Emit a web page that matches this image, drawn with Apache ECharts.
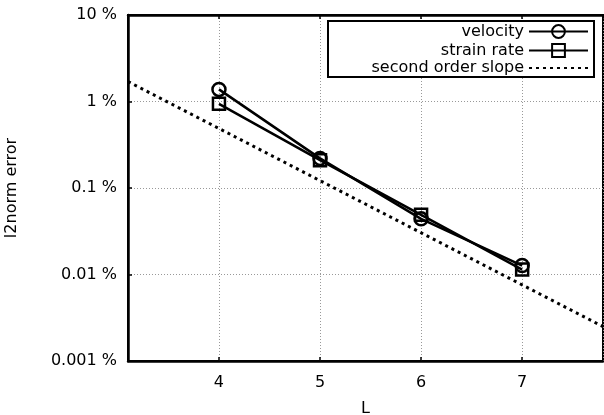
<!DOCTYPE html>
<html><head><meta charset="utf-8">
<script src="https://cdn.jsdelivr.net/npm/echarts@6/dist/echarts.min.js"></script>
<style>html,body{margin:0;padding:0;background:#fff}#c{width:604px;height:415px}</style>
</head><body><div id="c"></div>
<script>
var levels = [4, 5, 6, 7];
var velocity = [1.38, 0.22, 0.044, 0.0127];
var strainRate = [0.94, 0.21, 0.049, 0.0114];
var slopeX = [3.1, 7.8];
var slopeY = [1.7, 0.0025];
var yTicks = [0.001, 0.01, 0.1, 1, 10];
var names = ['velocity', 'strain rate', 'second order slope'];

var F = 'DejaVu Sans';
var chart = echarts.init(document.getElementById('c'), null, {renderer: 'canvas'});
function pairs(xs, ys) { return xs.map(function (x, i) { return [x, ys[i]]; }); }
function legendAt(name, top) {
  return {data: [name], orient: 'vertical', right: 15, top: top, align: 'right', padding: 0,
    itemWidth: 59, itemHeight: 16, itemGap: 0, selectedMode: false, z: 6,
    textStyle: {fontFamily: F, fontSize: 16, color: '#000'}};
}
var fmtY = function (v) {
  var s = v < 1 ? String(+v.toPrecision(3)) : String(Math.round(v));
  return s + ' %';
};
chart.setOption({
  animation: false,
  backgroundColor: '#fff',
  textStyle: {fontFamily: F},
  grid: {left: 128, right: 1, top: 15, bottom: 54, outerBoundsMode: 'none', containLabel: false,
    show: true, borderColor: '#000', borderWidth: 2, backgroundColor: 'transparent'},
  graphic: [{type: 'rect', shape: {x: 328, y: 21, width: 266, height: 56}, z: 5,
    style: {fill: '#fff', stroke: '#000', lineWidth: 2}}],
  legend: [legendAt(names[0], 23.5), legendAt(names[1], 42.5), legendAt(names[2], 60)],
  xAxis: [{
    type: 'value', min: slopeX[0], max: slopeX[1], name: 'L', nameLocation: 'middle', nameGap: 40,
    nameTextStyle: {fontFamily: F, fontSize: 16, color: '#000'},
    axisLine: {lineStyle: {color: '#000', width: 2.5}},
    axisTick: {inside: true, length: 4, lineStyle: {color: '#000', width: 1.5}},
    axisLabel: {fontFamily: F, fontSize: 16, color: '#000', margin: 14, showMinLabel: false, showMaxLabel: false},
    splitLine: {show: true, lineStyle: {color: '#999', type: [1, 2], width: 1}}
  }, {
    type: 'value', position: 'top', min: slopeX[0], max: slopeX[1],
    axisLine: {lineStyle: {color: '#000', width: 2.5}},
    axisTick: {inside: true, length: 4, lineStyle: {color: '#000', width: 1.5}},
    axisLabel: {show: false}, splitLine: {show: false}
  }],
  yAxis: [{
    type: 'log', logBase: 10, min: yTicks[0], max: yTicks[yTicks.length - 1],
    name: 'l2norm error', nameLocation: 'middle', nameGap: 108, nameRotate: 90,
    nameTextStyle: {fontFamily: F, fontSize: 16, color: '#000'},
    axisLine: {show: true, lineStyle: {color: '#000', width: 2.5}},
    axisTick: {show: true, inside: true, length: 4, lineStyle: {color: '#000', width: 1.5}},
    axisLabel: {fontFamily: F, fontSize: 16, color: '#000', margin: 11, formatter: fmtY},
    splitLine: {show: true, lineStyle: {color: '#999', type: [1, 2], width: 1}}
  }],
  series: [{
    name: names[0], type: 'line', data: pairs(levels, velocity), symbol: 'circle', symbolSize: 13,
    lineStyle: {color: '#000', width: 2.5}, itemStyle: {color: 'rgba(0,0,0,0)', borderColor: '#000', borderWidth: 2.5}, z: 3
  }, {
    name: names[1], type: 'line', data: pairs(levels, strainRate), symbol: 'rect', symbolSize: 12,
    lineStyle: {color: '#000', width: 2.5}, itemStyle: {color: 'rgba(0,0,0,0)', borderColor: '#000', borderWidth: 2.5}, z: 3
  }, {
    name: names[2], type: 'line', data: pairs(slopeX, slopeY), symbol: 'none',
    lineStyle: {color: '#000', width: 3, type: [3, 4]},
    itemStyle: {color: 'rgba(0,0,0,0)', borderColor: 'rgba(0,0,0,0)', borderWidth: 0}, z: 2
  }]
});
</script></body></html>
